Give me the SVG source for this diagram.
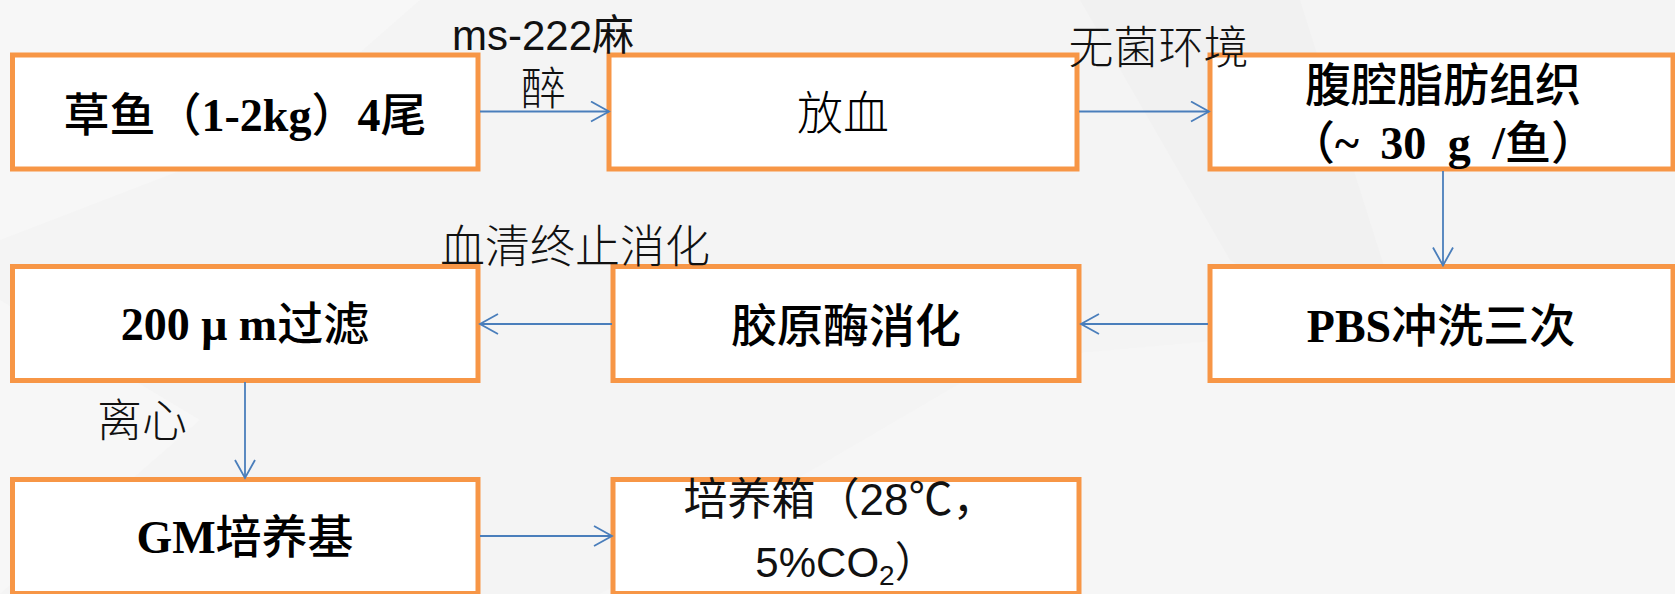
<svg xmlns="http://www.w3.org/2000/svg" width="1675" height="594" viewBox="0 0 1675 594">
<defs>
<style>
.box{fill:#ffffff;stroke:#F79646;stroke-width:5}
.bt{font-family:"Liberation Serif","Noto Sans CJK SC",serif;font-size:46px;fill:#000;text-anchor:middle}
.b{font-weight:500}
.L{font-weight:bold}
.lb{font-family:"Liberation Serif","Noto Sans CJK SC",serif;font-size:45px;fill:#111;text-anchor:middle;font-weight:300}
.ls{font-family:"Liberation Sans Narrow","Liberation Sans","Noto Sans CJK SC",sans-serif;fill:#111;text-anchor:middle}
.c{fill:none;stroke:#4A7EBB;stroke-width:1.8}
</style>
<marker id="ah" markerUnits="userSpaceOnUse" markerWidth="22" markerHeight="24" refX="19" refY="11" orient="auto">
<path d="M1,1 L19,11 L1,21" fill="none" stroke="#4A7EBB" stroke-width="1.8"/>
</marker>
</defs>
<rect x="0" y="0" width="1675" height="594" fill="#f4f4f4"/>
<polygon points="0,0 420,0 260,140 0,240" fill="#f7f7f7"/>
<polygon points="1080,0 1300,0 1420,380 1230,260" fill="#f1f1f1"/>
<polygon points="600,594 1000,360 1675,300 1675,594" fill="#f6f6f6"/>
<polygon points="0,300 200,420 0,594" fill="#f7f7f7"/>

<g id="n1">
<rect class="box" x="12.5" y="55" width="465.5" height="114"/>
<text class="bt b" x="245" y="131" font-size="50">草鱼（<tspan class="L">1-2kg</tspan>）<tspan class="L">4</tspan>尾</text>
</g>
<g id="n2">
<rect class="box" x="609" y="55" width="468" height="114"/>
<text class="bt" x="843" y="129" font-weight="300">放血</text>
</g>
<g id="n3">
<rect class="box" x="1210" y="55" width="463" height="114"/>
<text class="bt b" x="1443" y="101">腹腔脂肪组织</text>
<text class="bt b" x="1443" y="159" font-size="45" word-spacing="10">（<tspan class="L">~ 30 g /</tspan>鱼）</text>
</g>
<g id="n4">
<rect class="box" x="12.5" y="266.5" width="465.5" height="114"/>
<text class="bt b" x="245" y="340"><tspan class="L">200 μ m</tspan>过滤</text>
</g>
<g id="n5">
<rect class="box" x="613" y="266.5" width="466" height="114"/>
<text class="bt b" x="846" y="342">胶原酶消化</text>
</g>
<g id="n6">
<rect class="box" x="1210" y="266.5" width="463" height="114"/>
<text class="bt b" x="1441" y="342"><tspan class="L">PBS</tspan>冲洗三次</text>
</g>
<g id="n7">
<rect class="box" x="12.5" y="479.5" width="465.5" height="114"/>
<text class="bt b" x="245" y="553"><tspan class="L">GM</tspan>培养基</text>
</g>
<g id="n8">
<rect class="box" x="613" y="479.5" width="466" height="114"/>
<text class="ls" x="840" y="515" font-size="44">培养箱（28℃，</text>
<text class="ls" x="846" y="577" font-size="42">5%CO<tspan font-size="28" dy="8">2</tspan><tspan dy="-8">）</tspan></text>
</g>

<g id="connectors">
<line class="c" x1="480" y1="111.5" x2="609" y2="111.5" marker-end="url(#ah)"/>
<line class="c" x1="1079" y1="111.5" x2="1209" y2="111.5" marker-end="url(#ah)"/>
<line class="c" x1="1443" y1="171" x2="1443" y2="265.5" marker-end="url(#ah)"/>
<line class="c" x1="1208" y1="324" x2="1081" y2="324" marker-end="url(#ah)"/>
<line class="c" x1="612" y1="324" x2="480" y2="324" marker-end="url(#ah)"/>
<line class="c" x1="245" y1="382" x2="245" y2="478" marker-end="url(#ah)"/>
<line class="c" x1="480" y1="536" x2="612" y2="536" marker-end="url(#ah)"/>
<text class="ls" x="543" y="50" font-size="42">ms-222麻</text>
<text class="lb" x="543.5" y="105" font-size="44">醉</text>
<text class="lb" x="1158.5" y="64">无菌环境</text>
<text class="lb" x="575" y="263" font-size="46">血清终止消化</text>
<text class="lb" x="142" y="437">离心</text>
</g>
</svg>
